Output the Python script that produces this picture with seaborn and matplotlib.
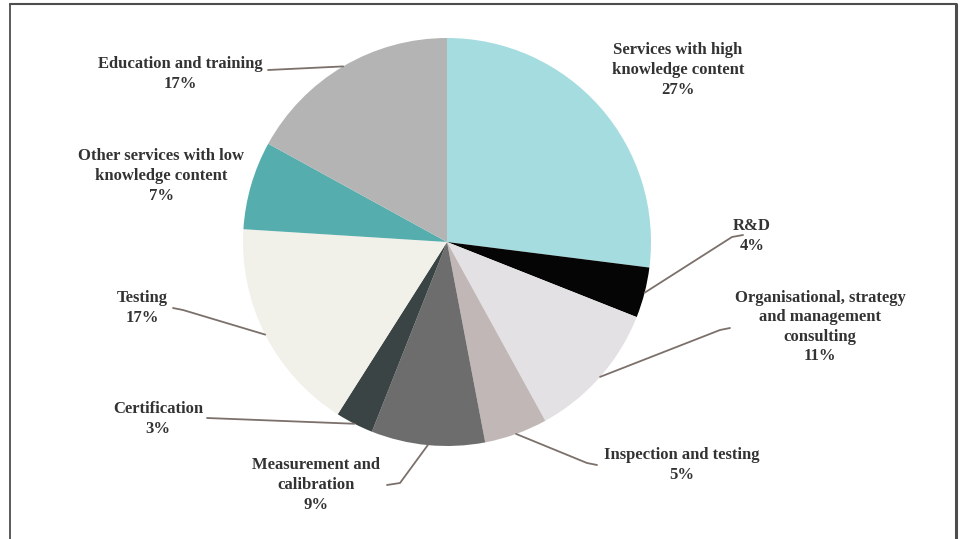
import numpy as np
import matplotlib
matplotlib.use("Agg")
import matplotlib.pyplot as plt
from matplotlib.lines import Line2D
import seaborn as sns

# Shares of service activities (percent), clockwise from 12 o'clock
categories = [
    "Services with high\nknowledge content",
    "R&D",
    "Organisational, strategy\nand management\nconsulting",
    "Inspection and testing",
    "Measurement and\ncalibration",
    "Certification",
    "Testing",
    "Other services with low\nknowledge content",
    "Education and training",
]
shares = [27, 4, 11, 5, 9, 3, 17, 7, 17]
slice_colors = ["#a5dcdf", "#050505", "#e3e1e4", "#c2b7b7", "#6d6d6d",
                "#3b4444", "#f1f0e9", "#56adad", "#b4b4b4"]

sns.set_theme(style="white")
plt.rcParams["font.family"] = ["Liberation Serif", "DejaVu Serif"]

W, H = 965, 539
fig = plt.figure(figsize=(W / 100, H / 100), dpi=100)
ax = fig.add_axes([0, 0, 1, 1])
ax.set_xlim(0, W)
ax.set_ylim(0, H)
ax.axis("off")

cx, cy, R = 447, H - 242, 204
wedges, _ = ax.pie(shares, colors=slice_colors, startangle=90, counterclock=False,
                   center=(cx, cy), radius=R, frame=True,
                   wedgeprops=dict(linewidth=0))
ax.set_xlim(0, W)
ax.set_ylim(0, H)
ax.axis("off")

def py(y):
    return H - y

text_kw = dict(fontsize=12, color="#333333", ha="center", va="center",
               fontweight="bold", linespacing=1.3)

# label block centre (px) and leader path (elbow points, px) for each slice
label_pos = [(678, 70), (752, 236), (820, 327), (682, 465), (316, 485),
             (158, 419), (142, 308), (161, 176), (180, 74)]
leaders = [None,
           [(732, 237), (743, 235)],
           [(720, 330), (730, 328)],
           [(587, 463), (597, 465)],
           [(400, 483), (387, 485)],
           [(207, 418)],
           [(183, 310), (173, 308)],
           None,
           [(268, 70)]]

for w, name, val, pos, path in zip(wedges, categories, shares, label_pos, leaders):
    ax.text(pos[0], py(pos[1]), f"{name}\n{val}%", **text_kw)
    if path is None:
        continue
    mid = np.deg2rad((w.theta1 + w.theta2) / 2)
    xs = [cx + R * np.cos(mid)] + [p[0] for p in path]
    ys = [cy + R * np.sin(mid)] + [py(p[1]) for p in path]
    ax.plot(xs, ys, color="#7b706a", lw=1.3, solid_capstyle="round")

# open frame around the chart
frame_kw = dict(color="#4d4d4d", transform=fig.transFigure)
fig.add_artist(Line2D([10 / W, 10 / W], [0, 1 - 4 / H], lw=1.3, **frame_kw))
fig.add_artist(Line2D([10 / W, 956 / W], [1 - 4 / H, 1 - 4 / H], lw=1.5, **frame_kw))
fig.add_artist(Line2D([956 / W, 956 / W], [0, 1 - 4 / H], lw=2.2, **frame_kw))

fig.savefig("out.png", dpi=100, facecolor="white")
